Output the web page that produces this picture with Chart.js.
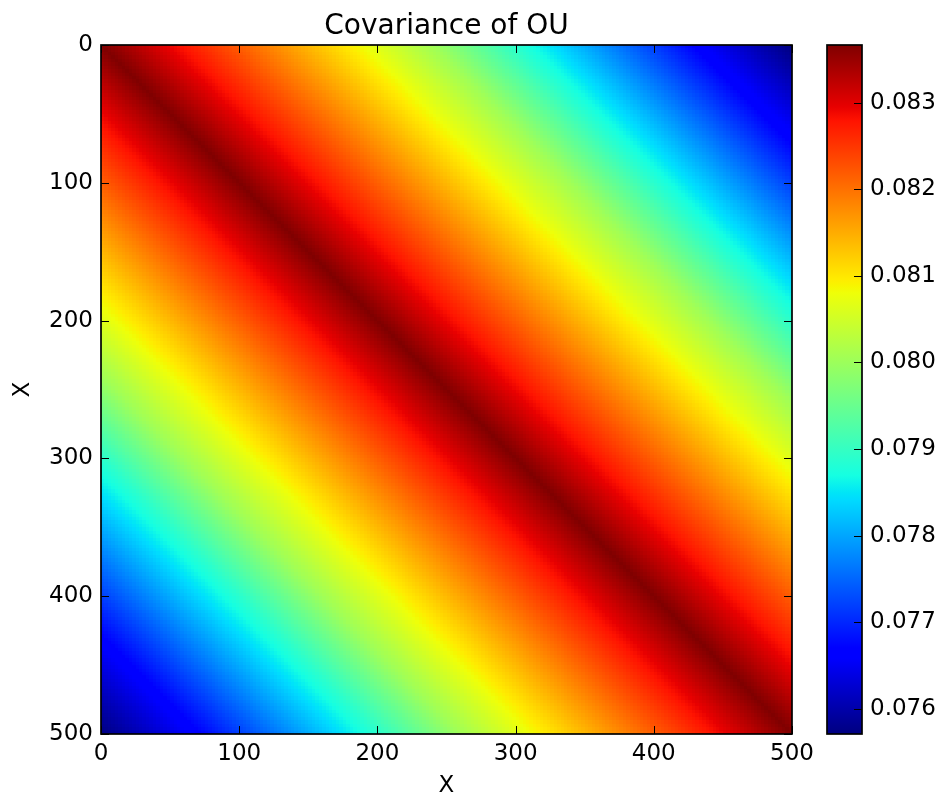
<!DOCTYPE html>
<html>
<head>
<meta charset="utf-8">
<title>Covariance of OU</title>
<script src="https://cdn.jsdelivr.net/npm/chart.js@4.4.1/dist/chart.umd.min.js"></script>
<style>
  body { margin: 0; background: #fff; }
  #wrap { position: relative; width: 944px; height: 796px; }
  #heat { position: absolute; left: 0; top: 0; }
  #cbar { position: absolute; left: 800px; top: 0; }
</style>
</head>
<body>
<div id="wrap">
  <canvas id="heat" width="944" height="796"></canvas>
  <canvas id="cbar" width="144" height="796"></canvas>
</div>
<script>
// DATA
// covariance, by lag |i - j| (lag 0, 2.5, 5 ... 497.5)
const covByLag = [
  0.083666, 0.083628, 0.083590, 0.083553, 0.083515, 0.083477, 0.083439, 0.083401, 0.083364, 0.083326,
  0.083288, 0.083250, 0.083213, 0.083175, 0.083137, 0.083099, 0.083061, 0.083024, 0.082986, 0.082948,
  0.082910, 0.082872, 0.082835, 0.082797, 0.082759, 0.082721, 0.082683, 0.082646, 0.082608, 0.082570,
  0.082532, 0.082495, 0.082457, 0.082419, 0.082381, 0.082343, 0.082306, 0.082268, 0.082230, 0.082192,
  0.082154, 0.082117, 0.082079, 0.082041, 0.082003, 0.081965, 0.081928, 0.081890, 0.081852, 0.081814,
  0.081776, 0.081739, 0.081701, 0.081663, 0.081625, 0.081587, 0.081550, 0.081512, 0.081474, 0.081436,
  0.081399, 0.081361, 0.081323, 0.081285, 0.081247, 0.081210, 0.081172, 0.081134, 0.081096, 0.081058,
  0.081021, 0.080983, 0.080945, 0.080907, 0.080869, 0.080832, 0.080794, 0.080756, 0.080718, 0.080680,
  0.080643, 0.080605, 0.080567, 0.080529, 0.080491, 0.080454, 0.080416, 0.080378, 0.080340, 0.080302,
  0.080265, 0.080227, 0.080189, 0.080151, 0.080114, 0.080076, 0.080038, 0.079990, 0.079943, 0.079895,
  0.079847, 0.079799, 0.079752, 0.079704, 0.079656, 0.079608, 0.079561, 0.079513, 0.079465, 0.079418,
  0.079370, 0.079322, 0.079274, 0.079227, 0.079179, 0.079131, 0.079083, 0.079036, 0.078988, 0.078940,
  0.078892, 0.078849, 0.078806, 0.078764, 0.078721, 0.078678, 0.078635, 0.078592, 0.078549, 0.078506,
  0.078464, 0.078421, 0.078378, 0.078335, 0.078292, 0.078249, 0.078207, 0.078164, 0.078121, 0.078078,
  0.078035, 0.077992, 0.077949, 0.077907, 0.077864, 0.077821, 0.077778, 0.077735, 0.077692, 0.077650,
  0.077607, 0.077564, 0.077521, 0.077478, 0.077435, 0.077392, 0.077350, 0.077307, 0.077264, 0.077221,
  0.077178, 0.077135, 0.077093, 0.077050, 0.077007, 0.076964, 0.076921, 0.076878, 0.076835, 0.076793,
  0.076750, 0.076707, 0.076664, 0.076630, 0.076596, 0.076562, 0.076528, 0.076494, 0.076460, 0.076426,
  0.076392, 0.076358, 0.076323, 0.076289, 0.076255, 0.076221, 0.076187, 0.076153, 0.076119, 0.076085,
  0.076051, 0.076016, 0.075982, 0.075948, 0.075914, 0.075880, 0.075846, 0.075812, 0.075778, 0.075744
]
const cellSize = 2.5
const gridStarts = covByLag.map((_, k) => k * cellSize)   // 0, 2.5, ... 497.5
const axisTicks = [0, 100, 200, 300, 400, 500]
const cbarTicks = [0.076, 0.077, 0.078, 0.079, 0.080, 0.081, 0.082, 0.083]
const colorMin = 0.075710
const colorMax = 0.083666

// cells of the matrix, value depends on |row - col|
const cells = []
gridStarts.forEach((y0, i) => {
  gridStarts.forEach((x0, j) => {
    cells.push({ x: x0 + cellSize / 2, y: y0 + cellSize / 2, v: covByLag[Math.abs(i - j)] })
  })
})

// matplotlib "jet"
const jetR = [[0, 0], [0.35, 0], [0.66, 1], [0.89, 1], [1, 0.5]]
const jetG = [[0, 0], [0.125, 0], [0.375, 1], [0.64, 1], [0.91, 0], [1, 0]]
const jetB = [[0, 0.5], [0.11, 1], [0.34, 1], [0.65, 0], [1, 0]]
function seg(pts, t) {
  for (let k = 1; k < pts.length; k++) {
    if (t <= pts[k][0]) {
      const [t0, v0] = pts[k - 1], [t1, v1] = pts[k]
      return v0 + (v1 - v0) * (t - t0) / (t1 - t0)
    }
  }
  return pts[pts.length - 1][1]
}
function jet(t) {
  t = Math.min(1, Math.max(0, t))
  const r = Math.round(seg(jetR, t) * 255)
  const g = Math.round(seg(jetG, t) * 255)
  const b = Math.round(seg(jetB, t) * 255)
  return `rgb(${r},${g},${b})`
}

const FONT = "'DejaVu Sans', 'Liberation Sans', sans-serif"
Chart.defaults.font.family = FONT
Chart.defaults.color = "#000"

// draws the cells through the chart scales
const heatmapPlugin = {
  id: "heatmap",
  beforeDatasetsDraw(chart) {
    const { ctx, chartArea, scales } = chart
    const half = cellSize / 2
    ctx.save()
    ctx.beginPath()
    ctx.rect(chartArea.left, chartArea.top, chartArea.right - chartArea.left, chartArea.bottom - chartArea.top)
    ctx.clip()
    chart.data.datasets[0].data.forEach((p) => {
      const xa = Math.round(scales.x.getPixelForValue(p.x - half))
      const xb = Math.round(scales.x.getPixelForValue(p.x + half))
      const ya = Math.round(scales.y.getPixelForValue(p.y - half))
      const yb = Math.round(scales.y.getPixelForValue(p.y + half))
      ctx.fillStyle = jet((p.v - colorMin) / (colorMax - colorMin))
      ctx.fillRect(Math.min(xa, xb), Math.min(ya, yb), Math.abs(xb - xa), Math.abs(yb - ya))
    })
    ctx.restore()
  },
}

// black frame and inward ticks (classic matplotlib look)
function frameWithTicks(sides, tickLen) {
  return {
    id: "frame",
    afterDraw(chart) {
      const { ctx, chartArea: a, scales } = chart
      ctx.save()
      ctx.strokeStyle = "#000"
      ctx.lineWidth = 1
      ctx.beginPath()
      if (sides.includes("x")) {
        scales.x.ticks.forEach((t) => {
          const px = Math.round(scales.x.getPixelForValue(t.value)) + 0.5
          ctx.moveTo(px, a.bottom); ctx.lineTo(px, a.bottom - tickLen)
          ctx.moveTo(px, a.top); ctx.lineTo(px, a.top + tickLen)
        })
      }
      if (sides.includes("y")) {
        scales.y.ticks.forEach((t) => {
          const py = Math.round(scales.y.getPixelForValue(t.value)) + 0.5
          ctx.moveTo(a.left, py); ctx.lineTo(a.left + tickLen, py)
          ctx.moveTo(a.right, py); ctx.lineTo(a.right - tickLen, py)
        })
      }
      if (sides.includes("r")) {
        scales.y.ticks.forEach((t) => {
          const py = Math.round(scales.y.getPixelForValue(t.value)) + 0.5
          ctx.moveTo(a.right, py); ctx.lineTo(a.right - tickLen, py)
        })
      }
      ctx.stroke()
      ctx.lineWidth = 1.7
      ctx.strokeRect(a.left, a.top, a.right - a.left, a.bottom - a.top)
      ctx.restore()
    },
  }
}

// Heatmap
const heatCanvas = document.getElementById("heat")
const tickFont = { family: FONT, size: 23 }

const heatChart = new Chart(heatCanvas, {
  type: "scatter",
  data: {
    datasets: [{ label: "Covariance", data: cells, pointRadius: 0, pointHoverRadius: 0 }],
  },
  options: {
    responsive: false,
    devicePixelRatio: 1,
    animation: false,
    events: [],
    layout: { padding: { top: 0, right: 152, bottom: 0, left: 0 } },
    scales: {
      x: {
        type: "linear",
        min: axisTicks[0],
        max: axisTicks[axisTicks.length - 1],
        afterBuildTicks: (s) => { s.ticks = axisTicks.map((v) => ({ value: v })) },
        ticks: { font: tickFont, color: "#000", padding: 6, maxRotation: 0 },
        grid: { display: false, drawTicks: false },
        border: { display: false },
        title: { display: true, text: "X", font: { family: FONT, size: 23, lineHeight: 0.9 }, color: "#000", padding: 0 },
        afterFit: (s) => { s.height = 62 },
      },
      y: {
        type: "linear",
        reverse: true,
        min: axisTicks[0],
        max: axisTicks[axisTicks.length - 1],
        afterBuildTicks: (s) => { s.ticks = axisTicks.map((v) => ({ value: v })) },
        ticks: { font: tickFont, color: "#000", padding: 8 },
        grid: { display: false, drawTicks: false },
        border: { display: false },
        title: { display: true, text: "X", font: { family: FONT, size: 23, lineHeight: 1 }, color: "#000", padding: { top: 11.5, bottom: 0 } },
        afterFit: (s) => { s.width = 101 },
      },
    },
    plugins: {
      legend: { display: false },
      tooltip: { enabled: false },
      title: {
        display: true,
        text: "Covariance of OU",
        fullSize: false,
        color: "#000",
        font: { family: FONT, size: 28, weight: "normal", lineHeight: 1.2 },
        padding: { top: 10, bottom: 1.4 },
      },
    },
  },
  plugins: [heatmapPlugin, frameWithTicks(["x", "y"], 8)],
})

// Colorbar
const cbarCanvas = document.getElementById("cbar")
function jetGradient(context) {
  const { chart } = context
  const a = chart.chartArea
  if (!a) return "#888"
  const grad = chart.ctx.createLinearGradient(0, a.bottom, 0, a.top)
  const stops = new Set()
  ;[jetR, jetG, jetB].forEach((pts) => pts.forEach((p) => stops.add(p[0])))
  Array.from(stops).sort((p, q) => p - q).forEach((t) => grad.addColorStop(t, jet(t)))
  return grad
}

const cbarChart = new Chart(cbarCanvas, {
  type: "bar",
  data: {
    labels: ["cov"],
    datasets: [{
      data: [[colorMin, colorMax]],
      backgroundColor: jetGradient,
      borderWidth: 0,
      barPercentage: 1,
      categoryPercentage: 1,
    }],
  },
  options: {
    responsive: false,
    devicePixelRatio: 1,
    animation: false,
    events: [],
    layout: { padding: { top: 45, right: 0, bottom: 62, left: 27 } },
    scales: {
      x: { display: false },
      y: {
        position: "right",
        min: colorMin,
        max: colorMax,
        afterBuildTicks: (s) => { s.ticks = cbarTicks.map((v) => ({ value: v })) },
        ticks: { font: tickFont, color: "#000", padding: 8, callback: (v) => Number(v).toFixed(3) },
        grid: { display: false, drawTicks: false },
        border: { display: false },
        afterFit: (s) => { s.width = 82 },
      },
    },
    plugins: {
      legend: { display: false },
      tooltip: { enabled: false },
    },
  },
  plugins: [frameWithTicks(["r"], 8)],
})
</script>
</body>
</html>
